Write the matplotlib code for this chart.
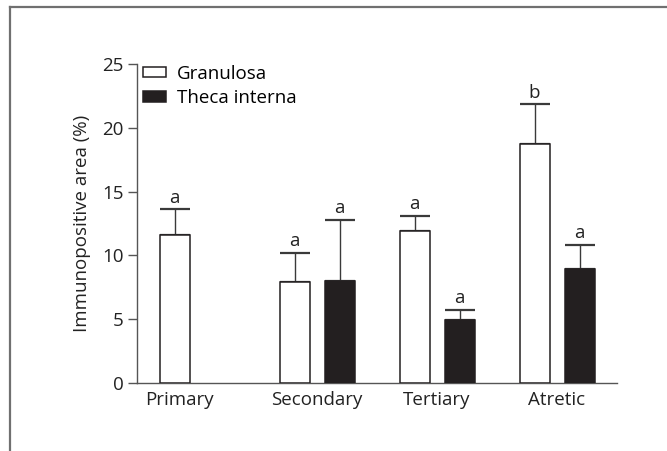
import numpy as np
import matplotlib
matplotlib.use("Agg")
import matplotlib.pyplot as plt
from matplotlib.patches import Patch
from matplotlib.lines import Line2D

plt.rcParams['font.family'] = ['Open Sans', 'DejaVu Sans']

stages = ['Primary', 'Secondary', 'Tertiary', 'Atretic']
granulosa = [11.6, 7.9, 11.9, 18.7]
granulosa_err = [2.0, 2.3, 1.2, 3.15]
theca = [np.nan, 8.0, 4.9, 8.9]
theca_err = [np.nan, 4.8, 0.85, 1.95]
granulosa_sig = ['a', 'a', 'a', 'b']
theca_sig = ['', 'a', 'a', 'a']

fs = 13.5
edge = '#231f20'
gray = '#555555'

fig = plt.figure(figsize=(6.67, 4.51), dpi=100)
ax = fig.add_axes([137/667, 1 - 383/451, 480/667, 319/451])

x = np.arange(len(stages))
w = 0.25
off = 0.375
g = np.array(granulosa)
ge = np.array(granulosa_err)
t = np.array(theca)
te = np.array(theca_err)
has_t = ~np.isnan(t)

ax.bar(x, g, w, color='white', edgecolor=edge, linewidth=1.1, zorder=3)
ax.errorbar(x, g, yerr=[np.zeros_like(ge), ge], fmt='none', ecolor='#3a3a3a',
            elinewidth=1.0, capsize=10.5, capthick=1.6, zorder=2)
ax.bar(x[has_t] + off, t[has_t], w, color=edge, edgecolor=edge, linewidth=1.1, zorder=3)
ax.errorbar(x[has_t] + off, t[has_t], yerr=[np.zeros(has_t.sum()), te[has_t]], fmt='none',
            ecolor='#3a3a3a', elinewidth=1.0, capsize=10.5, capthick=1.6, zorder=2)

for i in range(len(stages)):
    ax.text(x[i], g[i] + ge[i] + 0.5, granulosa_sig[i], ha='center', va='baseline',
            fontsize=fs, color='#222222')
    if has_t[i]:
        ax.text(x[i] + off, t[i] + te[i] + 0.5, theca_sig[i], ha='center', va='baseline',
                fontsize=fs, color='#222222')

ax.set_xlim(-0.3125, 3.6875)
ax.set_ylim(0, 25)
ax.set_yticks([0, 5, 10, 15, 20, 25])
tick_x = x + np.where(has_t, off / 2, 0.04)
ax.set_xticks(tick_x)
ax.set_xticklabels(stages)
ax.tick_params(axis='x', length=0, pad=6, labelsize=fs, colors='#222222')
ax.tick_params(axis='y', length=6.5, width=1.0, pad=3, labelsize=fs, colors='#222222',
               color=gray)
for s in ['top', 'right']:
    ax.spines[s].set_visible(False)
for s in ['left', 'bottom']:
    ax.spines[s].set_color(gray)
    ax.spines[s].set_linewidth(1.0)
ax.set_ylabel('Immunopositive area (%)', fontsize=fs, color='#222222', labelpad=8)

handles = [Patch(facecolor='white', edgecolor=edge, linewidth=1.1),
           Patch(facecolor=edge, edgecolor=edge, linewidth=1.1)]
ax.legend(handles, ['Granulosa', 'Theca interna'], loc='upper left',
          bbox_to_anchor=(143/667, 1 - 65/451), bbox_transform=fig.transFigure,
          frameon=False, fontsize=fs, handlelength=1.25, handleheight=0.45,
          handletextpad=0.55, labelspacing=0.33, borderpad=0, borderaxespad=0)

# outer frame (top and left only)
fig.add_artist(Line2D([10/667, 1], [1 - 7/451, 1 - 7/451], transform=fig.transFigure,
                      color='#707070', linewidth=1.6))
fig.add_artist(Line2D([10/667, 10/667], [0, 1 - 7/451], transform=fig.transFigure,
                      color='#707070', linewidth=1.6))

fig.savefig('out.png', dpi=100)
